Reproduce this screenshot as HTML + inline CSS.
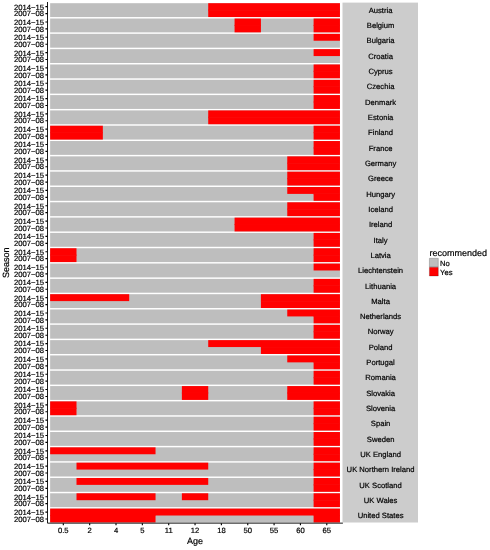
<!DOCTYPE html>
<html lang="en"><head><meta charset="utf-8"><title>Recommended by age and season</title>
<style>html,body{margin:0;padding:0;background:#fff}body{width:490px;height:550px;overflow:hidden}svg{display:block}</style>
</head><body>
<svg width="490" height="550" viewBox="0 0 490 550" font-family="'Liberation Sans', sans-serif" fill="#000" text-rendering="geometricPrecision">
<rect width="490" height="550" fill="#fff"/>
<rect x="342.5" y="2.6" width="75.50" height="519.90" fill="#cccccc"/>
<rect x="50.15" y="3.2" width="289.8" height="13.85" fill="#bebebe"/>
<rect x="208.22" y="3.2" width="131.73" height="6.92" fill="#ff0000"/>
<rect x="208.22" y="10.12" width="131.73" height="6.92" fill="#ff0000"/>
<rect x="208.22" y="9.62" width="131.73" height="1" fill="#ff0000"/>
<rect x="50.15" y="18.52" width="289.8" height="13.85" fill="#bebebe"/>
<rect x="234.57" y="18.52" width="26.35" height="6.92" fill="#ff0000"/>
<rect x="313.6" y="18.52" width="26.35" height="6.92" fill="#ff0000"/>
<rect x="234.57" y="25.44" width="26.35" height="6.92" fill="#ff0000"/>
<rect x="313.6" y="25.44" width="26.35" height="6.92" fill="#ff0000"/>
<rect x="234.57" y="24.94" width="26.35" height="1" fill="#ff0000"/>
<rect x="313.6" y="24.94" width="26.35" height="1" fill="#ff0000"/>
<rect x="50.15" y="33.83" width="289.8" height="13.85" fill="#bebebe"/>
<rect x="313.6" y="33.83" width="26.35" height="6.92" fill="#ff0000"/>
<rect x="50.15" y="49.15" width="289.8" height="13.85" fill="#bebebe"/>
<rect x="313.6" y="49.15" width="26.35" height="6.92" fill="#ff0000"/>
<rect x="50.15" y="64.46" width="289.8" height="13.85" fill="#bebebe"/>
<rect x="313.6" y="64.46" width="26.35" height="6.92" fill="#ff0000"/>
<rect x="313.6" y="71.38" width="26.35" height="6.92" fill="#ff0000"/>
<rect x="313.6" y="70.88" width="26.35" height="1" fill="#ff0000"/>
<rect x="50.15" y="79.78" width="289.8" height="13.85" fill="#bebebe"/>
<rect x="313.6" y="79.78" width="26.35" height="6.92" fill="#ff0000"/>
<rect x="313.6" y="86.7" width="26.35" height="6.92" fill="#ff0000"/>
<rect x="313.6" y="86.2" width="26.35" height="1" fill="#ff0000"/>
<rect x="50.15" y="95.09" width="289.8" height="13.85" fill="#bebebe"/>
<rect x="313.6" y="95.09" width="26.35" height="6.92" fill="#ff0000"/>
<rect x="313.6" y="102.02" width="26.35" height="6.92" fill="#ff0000"/>
<rect x="313.6" y="101.52" width="26.35" height="1" fill="#ff0000"/>
<rect x="50.15" y="110.41" width="289.8" height="13.85" fill="#bebebe"/>
<rect x="208.22" y="110.41" width="131.73" height="6.92" fill="#ff0000"/>
<rect x="208.22" y="117.33" width="131.73" height="6.92" fill="#ff0000"/>
<rect x="208.22" y="116.83" width="131.73" height="1" fill="#ff0000"/>
<rect x="50.15" y="125.72" width="289.8" height="13.85" fill="#bebebe"/>
<rect x="50.15" y="125.72" width="52.69" height="6.92" fill="#ff0000"/>
<rect x="313.6" y="125.72" width="26.35" height="6.92" fill="#ff0000"/>
<rect x="50.15" y="132.65" width="52.69" height="6.92" fill="#ff0000"/>
<rect x="313.6" y="132.65" width="26.35" height="6.92" fill="#ff0000"/>
<rect x="50.15" y="132.15" width="52.69" height="1" fill="#ff0000"/>
<rect x="313.6" y="132.15" width="26.35" height="1" fill="#ff0000"/>
<rect x="50.15" y="141.03" width="289.8" height="13.85" fill="#bebebe"/>
<rect x="313.6" y="141.03" width="26.35" height="6.92" fill="#ff0000"/>
<rect x="313.6" y="147.96" width="26.35" height="6.92" fill="#ff0000"/>
<rect x="313.6" y="147.46" width="26.35" height="1" fill="#ff0000"/>
<rect x="50.15" y="156.35" width="289.8" height="13.85" fill="#bebebe"/>
<rect x="287.26" y="156.35" width="52.69" height="6.92" fill="#ff0000"/>
<rect x="287.26" y="163.28" width="52.69" height="6.92" fill="#ff0000"/>
<rect x="287.26" y="162.78" width="52.69" height="1" fill="#ff0000"/>
<rect x="50.15" y="171.66" width="289.8" height="13.85" fill="#bebebe"/>
<rect x="287.26" y="171.66" width="52.69" height="6.92" fill="#ff0000"/>
<rect x="287.26" y="178.59" width="52.69" height="6.92" fill="#ff0000"/>
<rect x="287.26" y="178.09" width="52.69" height="1" fill="#ff0000"/>
<rect x="50.15" y="186.98" width="289.8" height="13.85" fill="#bebebe"/>
<rect x="287.26" y="186.98" width="52.69" height="6.92" fill="#ff0000"/>
<rect x="313.6" y="193.91" width="26.35" height="6.92" fill="#ff0000"/>
<rect x="313.6" y="193.41" width="26.35" height="1" fill="#ff0000"/>
<rect x="50.15" y="202.29" width="289.8" height="13.85" fill="#bebebe"/>
<rect x="287.26" y="202.29" width="52.69" height="6.92" fill="#ff0000"/>
<rect x="287.26" y="209.22" width="52.69" height="6.92" fill="#ff0000"/>
<rect x="287.26" y="208.72" width="52.69" height="1" fill="#ff0000"/>
<rect x="50.15" y="217.61" width="289.8" height="13.85" fill="#bebebe"/>
<rect x="234.57" y="217.61" width="105.38" height="6.92" fill="#ff0000"/>
<rect x="234.57" y="224.53" width="105.38" height="6.92" fill="#ff0000"/>
<rect x="234.57" y="224.03" width="105.38" height="1" fill="#ff0000"/>
<rect x="50.15" y="232.92" width="289.8" height="13.85" fill="#bebebe"/>
<rect x="313.6" y="232.92" width="26.35" height="6.92" fill="#ff0000"/>
<rect x="313.6" y="239.85" width="26.35" height="6.92" fill="#ff0000"/>
<rect x="313.6" y="239.35" width="26.35" height="1" fill="#ff0000"/>
<rect x="50.15" y="248.24" width="289.8" height="13.85" fill="#bebebe"/>
<rect x="50.15" y="248.24" width="26.35" height="6.92" fill="#ff0000"/>
<rect x="313.6" y="248.24" width="26.35" height="6.92" fill="#ff0000"/>
<rect x="50.15" y="255.16" width="26.35" height="6.92" fill="#ff0000"/>
<rect x="313.6" y="255.16" width="26.35" height="6.92" fill="#ff0000"/>
<rect x="50.15" y="254.66" width="26.35" height="1" fill="#ff0000"/>
<rect x="313.6" y="254.66" width="26.35" height="1" fill="#ff0000"/>
<rect x="50.15" y="263.56" width="289.8" height="13.85" fill="#bebebe"/>
<rect x="313.6" y="263.56" width="26.35" height="6.92" fill="#ff0000"/>
<rect x="50.15" y="278.87" width="289.8" height="13.85" fill="#bebebe"/>
<rect x="313.6" y="278.87" width="26.35" height="6.92" fill="#ff0000"/>
<rect x="313.6" y="285.8" width="26.35" height="6.92" fill="#ff0000"/>
<rect x="313.6" y="285.3" width="26.35" height="1" fill="#ff0000"/>
<rect x="50.15" y="294.19" width="289.8" height="13.85" fill="#bebebe"/>
<rect x="50.15" y="294.19" width="79.04" height="6.92" fill="#ff0000"/>
<rect x="260.91" y="294.19" width="79.04" height="6.92" fill="#ff0000"/>
<rect x="260.91" y="301.11" width="79.04" height="6.92" fill="#ff0000"/>
<rect x="260.91" y="300.61" width="79.04" height="1" fill="#ff0000"/>
<rect x="50.15" y="309.5" width="289.8" height="13.85" fill="#bebebe"/>
<rect x="287.26" y="309.5" width="52.69" height="6.92" fill="#ff0000"/>
<rect x="313.6" y="316.43" width="26.35" height="6.92" fill="#ff0000"/>
<rect x="313.6" y="315.93" width="26.35" height="1" fill="#ff0000"/>
<rect x="50.15" y="324.81" width="289.8" height="13.85" fill="#bebebe"/>
<rect x="313.6" y="324.81" width="26.35" height="6.92" fill="#ff0000"/>
<rect x="313.6" y="331.74" width="26.35" height="6.92" fill="#ff0000"/>
<rect x="313.6" y="331.24" width="26.35" height="1" fill="#ff0000"/>
<rect x="50.15" y="340.13" width="289.8" height="13.85" fill="#bebebe"/>
<rect x="208.22" y="340.13" width="131.73" height="6.92" fill="#ff0000"/>
<rect x="260.91" y="347.06" width="79.04" height="6.92" fill="#ff0000"/>
<rect x="260.91" y="346.56" width="79.04" height="1" fill="#ff0000"/>
<rect x="50.15" y="355.44" width="289.8" height="13.85" fill="#bebebe"/>
<rect x="287.26" y="355.44" width="52.69" height="6.92" fill="#ff0000"/>
<rect x="313.6" y="362.37" width="26.35" height="6.92" fill="#ff0000"/>
<rect x="313.6" y="361.87" width="26.35" height="1" fill="#ff0000"/>
<rect x="50.15" y="370.76" width="289.8" height="13.85" fill="#bebebe"/>
<rect x="313.6" y="370.76" width="26.35" height="6.92" fill="#ff0000"/>
<rect x="313.6" y="377.69" width="26.35" height="6.92" fill="#ff0000"/>
<rect x="313.6" y="377.19" width="26.35" height="1" fill="#ff0000"/>
<rect x="50.15" y="386.07" width="289.8" height="13.85" fill="#bebebe"/>
<rect x="181.88" y="386.07" width="26.35" height="6.92" fill="#ff0000"/>
<rect x="287.26" y="386.07" width="52.69" height="6.92" fill="#ff0000"/>
<rect x="181.88" y="393" width="26.35" height="6.92" fill="#ff0000"/>
<rect x="287.26" y="393" width="52.69" height="6.92" fill="#ff0000"/>
<rect x="181.88" y="392.5" width="26.35" height="1" fill="#ff0000"/>
<rect x="287.26" y="392.5" width="52.69" height="1" fill="#ff0000"/>
<rect x="50.15" y="401.39" width="289.8" height="13.85" fill="#bebebe"/>
<rect x="50.15" y="401.39" width="26.35" height="6.92" fill="#ff0000"/>
<rect x="313.6" y="401.39" width="26.35" height="6.92" fill="#ff0000"/>
<rect x="50.15" y="408.31" width="26.35" height="6.92" fill="#ff0000"/>
<rect x="313.6" y="408.31" width="26.35" height="6.92" fill="#ff0000"/>
<rect x="50.15" y="407.81" width="26.35" height="1" fill="#ff0000"/>
<rect x="313.6" y="407.81" width="26.35" height="1" fill="#ff0000"/>
<rect x="50.15" y="416.7" width="289.8" height="13.85" fill="#bebebe"/>
<rect x="313.6" y="416.7" width="26.35" height="6.92" fill="#ff0000"/>
<rect x="313.6" y="423.63" width="26.35" height="6.92" fill="#ff0000"/>
<rect x="313.6" y="423.13" width="26.35" height="1" fill="#ff0000"/>
<rect x="50.15" y="432.02" width="289.8" height="13.85" fill="#bebebe"/>
<rect x="313.6" y="432.02" width="26.35" height="6.92" fill="#ff0000"/>
<rect x="313.6" y="438.94" width="26.35" height="6.92" fill="#ff0000"/>
<rect x="313.6" y="438.44" width="26.35" height="1" fill="#ff0000"/>
<rect x="50.15" y="447.33" width="289.8" height="13.85" fill="#bebebe"/>
<rect x="50.15" y="447.33" width="105.38" height="6.92" fill="#ff0000"/>
<rect x="313.6" y="447.33" width="26.35" height="6.92" fill="#ff0000"/>
<rect x="313.6" y="454.26" width="26.35" height="6.92" fill="#ff0000"/>
<rect x="313.6" y="453.76" width="26.35" height="1" fill="#ff0000"/>
<rect x="50.15" y="462.65" width="289.8" height="13.85" fill="#bebebe"/>
<rect x="76.5" y="462.65" width="131.73" height="6.92" fill="#ff0000"/>
<rect x="313.6" y="462.65" width="26.35" height="6.92" fill="#ff0000"/>
<rect x="313.6" y="469.57" width="26.35" height="6.92" fill="#ff0000"/>
<rect x="313.6" y="469.07" width="26.35" height="1" fill="#ff0000"/>
<rect x="50.15" y="477.96" width="289.8" height="13.85" fill="#bebebe"/>
<rect x="76.5" y="477.96" width="131.73" height="6.92" fill="#ff0000"/>
<rect x="313.6" y="477.96" width="26.35" height="6.92" fill="#ff0000"/>
<rect x="313.6" y="484.89" width="26.35" height="6.92" fill="#ff0000"/>
<rect x="313.6" y="484.39" width="26.35" height="1" fill="#ff0000"/>
<rect x="50.15" y="493.28" width="289.8" height="13.85" fill="#bebebe"/>
<rect x="76.5" y="493.28" width="79.04" height="6.92" fill="#ff0000"/>
<rect x="181.88" y="493.28" width="26.35" height="6.92" fill="#ff0000"/>
<rect x="313.6" y="493.28" width="26.35" height="6.92" fill="#ff0000"/>
<rect x="313.6" y="500.2" width="26.35" height="6.92" fill="#ff0000"/>
<rect x="313.6" y="499.7" width="26.35" height="1" fill="#ff0000"/>
<rect x="50.15" y="508.59" width="289.8" height="13.85" fill="#bebebe"/>
<rect x="50.15" y="508.59" width="289.8" height="6.92" fill="#ff0000"/>
<rect x="50.15" y="515.52" width="105.38" height="6.92" fill="#ff0000"/>
<rect x="313.6" y="515.52" width="26.35" height="6.92" fill="#ff0000"/>
<rect x="50.15" y="515.02" width="105.38" height="1" fill="#ff0000"/>
<rect x="313.6" y="515.02" width="26.35" height="1" fill="#ff0000"/>
<g stroke="#000" stroke-width="0.9" fill="none">
<path d="M47.5 2 V523.15 H342.9"/>
<path stroke-width="1.15" d="M45.4 6.66 H47.5 M45.4 13.59 H47.5 M45.4 21.98 H47.5 M45.4 28.9 H47.5 M45.4 37.29 H47.5 M45.4 44.22 H47.5 M45.4 52.61 H47.5 M45.4 59.53 H47.5 M45.4 67.92 H47.5 M45.4 74.85 H47.5 M45.4 83.24 H47.5 M45.4 90.16 H47.5 M45.4 98.55 H47.5 M45.4 105.48 H47.5 M45.4 113.87 H47.5 M45.4 120.79 H47.5 M45.4 129.18 H47.5 M45.4 136.11 H47.5 M45.4 144.5 H47.5 M45.4 151.42 H47.5 M45.4 159.81 H47.5 M45.4 166.74 H47.5 M45.4 175.13 H47.5 M45.4 182.05 H47.5 M45.4 190.44 H47.5 M45.4 197.37 H47.5 M45.4 205.76 H47.5 M45.4 212.68 H47.5 M45.4 221.07 H47.5 M45.4 228 H47.5 M45.4 236.39 H47.5 M45.4 243.31 H47.5 M45.4 251.7 H47.5 M45.4 258.63 H47.5 M45.4 267.02 H47.5 M45.4 273.94 H47.5 M45.4 282.33 H47.5 M45.4 289.26 H47.5 M45.4 297.65 H47.5 M45.4 304.57 H47.5 M45.4 312.96 H47.5 M45.4 319.89 H47.5 M45.4 328.28 H47.5 M45.4 335.2 H47.5 M45.4 343.59 H47.5 M45.4 350.52 H47.5 M45.4 358.91 H47.5 M45.4 365.83 H47.5 M45.4 374.22 H47.5 M45.4 381.15 H47.5 M45.4 389.54 H47.5 M45.4 396.46 H47.5 M45.4 404.85 H47.5 M45.4 411.78 H47.5 M45.4 420.17 H47.5 M45.4 427.09 H47.5 M45.4 435.48 H47.5 M45.4 442.41 H47.5 M45.4 450.8 H47.5 M45.4 457.72 H47.5 M45.4 466.11 H47.5 M45.4 473.04 H47.5 M45.4 481.43 H47.5 M45.4 488.35 H47.5 M45.4 496.74 H47.5 M45.4 503.67 H47.5 M45.4 512.06 H47.5 M45.4 518.98 H47.5 M63.32 523.15 V525.25 M89.67 523.15 V525.25 M116.01 523.15 V525.25 M142.36 523.15 V525.25 M168.7 523.15 V525.25 M195.05 523.15 V525.25 M221.4 523.15 V525.25 M247.74 523.15 V525.25 M274.09 523.15 V525.25 M300.43 523.15 V525.25 M326.78 523.15 V525.25"/>
</g>
<g stroke="#000" stroke-width="0.2" stroke-linejoin="round">
<g font-size="7.65" text-anchor="end">
<text x="43.9" y="9.56">2014−15</text>
<text x="43.9" y="16.29">2007−08</text>
<text x="43.9" y="24.88">2014−15</text>
<text x="43.9" y="31.6">2007−08</text>
<text x="43.9" y="40.19">2014−15</text>
<text x="43.9" y="46.92">2007−08</text>
<text x="43.9" y="55.51">2014−15</text>
<text x="43.9" y="62.23">2007−08</text>
<text x="43.9" y="70.82">2014−15</text>
<text x="43.9" y="77.55">2007−08</text>
<text x="43.9" y="86.14">2014−15</text>
<text x="43.9" y="92.86">2007−08</text>
<text x="43.9" y="101.45">2014−15</text>
<text x="43.9" y="108.18">2007−08</text>
<text x="43.9" y="116.77">2014−15</text>
<text x="43.9" y="123.49">2007−08</text>
<text x="43.9" y="132.08">2014−15</text>
<text x="43.9" y="138.81">2007−08</text>
<text x="43.9" y="147.4">2014−15</text>
<text x="43.9" y="154.12">2007−08</text>
<text x="43.9" y="162.71">2014−15</text>
<text x="43.9" y="169.44">2007−08</text>
<text x="43.9" y="178.03">2014−15</text>
<text x="43.9" y="184.75">2007−08</text>
<text x="43.9" y="193.34">2014−15</text>
<text x="43.9" y="200.07">2007−08</text>
<text x="43.9" y="208.66">2014−15</text>
<text x="43.9" y="215.38">2007−08</text>
<text x="43.9" y="223.97">2014−15</text>
<text x="43.9" y="230.7">2007−08</text>
<text x="43.9" y="239.29">2014−15</text>
<text x="43.9" y="246.01">2007−08</text>
<text x="43.9" y="254.6">2014−15</text>
<text x="43.9" y="261.33">2007−08</text>
<text x="43.9" y="269.92">2014−15</text>
<text x="43.9" y="276.64">2007−08</text>
<text x="43.9" y="285.23">2014−15</text>
<text x="43.9" y="291.96">2007−08</text>
<text x="43.9" y="300.55">2014−15</text>
<text x="43.9" y="307.27">2007−08</text>
<text x="43.9" y="315.86">2014−15</text>
<text x="43.9" y="322.59">2007−08</text>
<text x="43.9" y="331.18">2014−15</text>
<text x="43.9" y="337.9">2007−08</text>
<text x="43.9" y="346.49">2014−15</text>
<text x="43.9" y="353.22">2007−08</text>
<text x="43.9" y="361.81">2014−15</text>
<text x="43.9" y="368.53">2007−08</text>
<text x="43.9" y="377.12">2014−15</text>
<text x="43.9" y="383.85">2007−08</text>
<text x="43.9" y="392.44">2014−15</text>
<text x="43.9" y="399.16">2007−08</text>
<text x="43.9" y="407.75">2014−15</text>
<text x="43.9" y="414.48">2007−08</text>
<text x="43.9" y="423.07">2014−15</text>
<text x="43.9" y="429.79">2007−08</text>
<text x="43.9" y="438.38">2014−15</text>
<text x="43.9" y="445.11">2007−08</text>
<text x="43.9" y="453.7">2014−15</text>
<text x="43.9" y="460.42">2007−08</text>
<text x="43.9" y="469.01">2014−15</text>
<text x="43.9" y="475.74">2007−08</text>
<text x="43.9" y="484.33">2014−15</text>
<text x="43.9" y="491.05">2007−08</text>
<text x="43.9" y="499.64">2014−15</text>
<text x="43.9" y="506.37">2007−08</text>
<text x="43.9" y="514.96">2014−15</text>
<text x="43.9" y="521.68">2007−08</text>
</g>
<g font-size="7.65" text-anchor="middle">
<text x="63.32" y="532.6">0.5</text>
<text x="89.67" y="532.6">2</text>
<text x="116.01" y="532.6">4</text>
<text x="142.36" y="532.6">5</text>
<text x="168.7" y="532.6">11</text>
<text x="195.05" y="532.6">12</text>
<text x="221.4" y="532.6">18</text>
<text x="247.74" y="532.6">50</text>
<text x="274.09" y="532.6">55</text>
<text x="300.43" y="532.6">60</text>
<text x="326.78" y="532.6">65</text>
</g>
<g font-size="7.65" text-anchor="middle">
<text x="380.6" y="12.82">Austria</text>
<text x="380.6" y="28.14">Belgium</text>
<text x="380.6" y="43.45">Bulgaria</text>
<text x="380.6" y="58.77">Croatia</text>
<text x="380.6" y="74.08">Cyprus</text>
<text x="380.6" y="89.4">Czechia</text>
<text x="380.6" y="104.72">Denmark</text>
<text x="380.6" y="120.03">Estonia</text>
<text x="380.6" y="135.34">Finland</text>
<text x="380.6" y="150.66">France</text>
<text x="380.6" y="165.97">Germany</text>
<text x="380.6" y="181.29">Greece</text>
<text x="380.6" y="196.6">Hungary</text>
<text x="380.6" y="211.92">Iceland</text>
<text x="380.6" y="227.23">Ireland</text>
<text x="380.6" y="242.55">Italy</text>
<text x="380.6" y="257.87">Latvia</text>
<text x="380.6" y="273.18">Liechtenstein</text>
<text x="380.6" y="288.5">Lithuania</text>
<text x="380.6" y="303.81">Malta</text>
<text x="380.6" y="319.12">Netherlands</text>
<text x="380.6" y="334.44">Norway</text>
<text x="380.6" y="349.75">Poland</text>
<text x="380.6" y="365.07">Portugal</text>
<text x="380.6" y="380.38">Romania</text>
<text x="380.6" y="395.7">Slovakia</text>
<text x="380.6" y="411.01">Slovenia</text>
<text x="380.6" y="426.33">Spain</text>
<text x="380.6" y="441.64">Sweden</text>
<text x="380.6" y="456.96">UK England</text>
<text x="380.6" y="472.27">UK Northern Ireland</text>
<text x="380.6" y="487.59">UK Scotland</text>
<text x="380.6" y="502.9">UK Wales</text>
<text x="380.6" y="518.22">United States</text>
</g>
<text x="195" y="543.6" font-size="9.0" text-anchor="middle">Age</text>
<text transform="translate(9.1 262.8) rotate(-90)" font-size="9.0" text-anchor="middle">Season</text>
<text x="429.4" y="256.0" font-size="9.0">recommended</text>
<rect x="429.4" y="258.3" width="8.9" height="8.6" fill="#bebebe"/>
<rect x="429.4" y="267.3" width="8.9" height="8.7" fill="#ff0000"/>
<text x="440.0" y="265.5" font-size="7.65">No</text>
<text x="440.0" y="274.6" font-size="7.65">Yes</text>
</g>
</svg>
</body></html>
